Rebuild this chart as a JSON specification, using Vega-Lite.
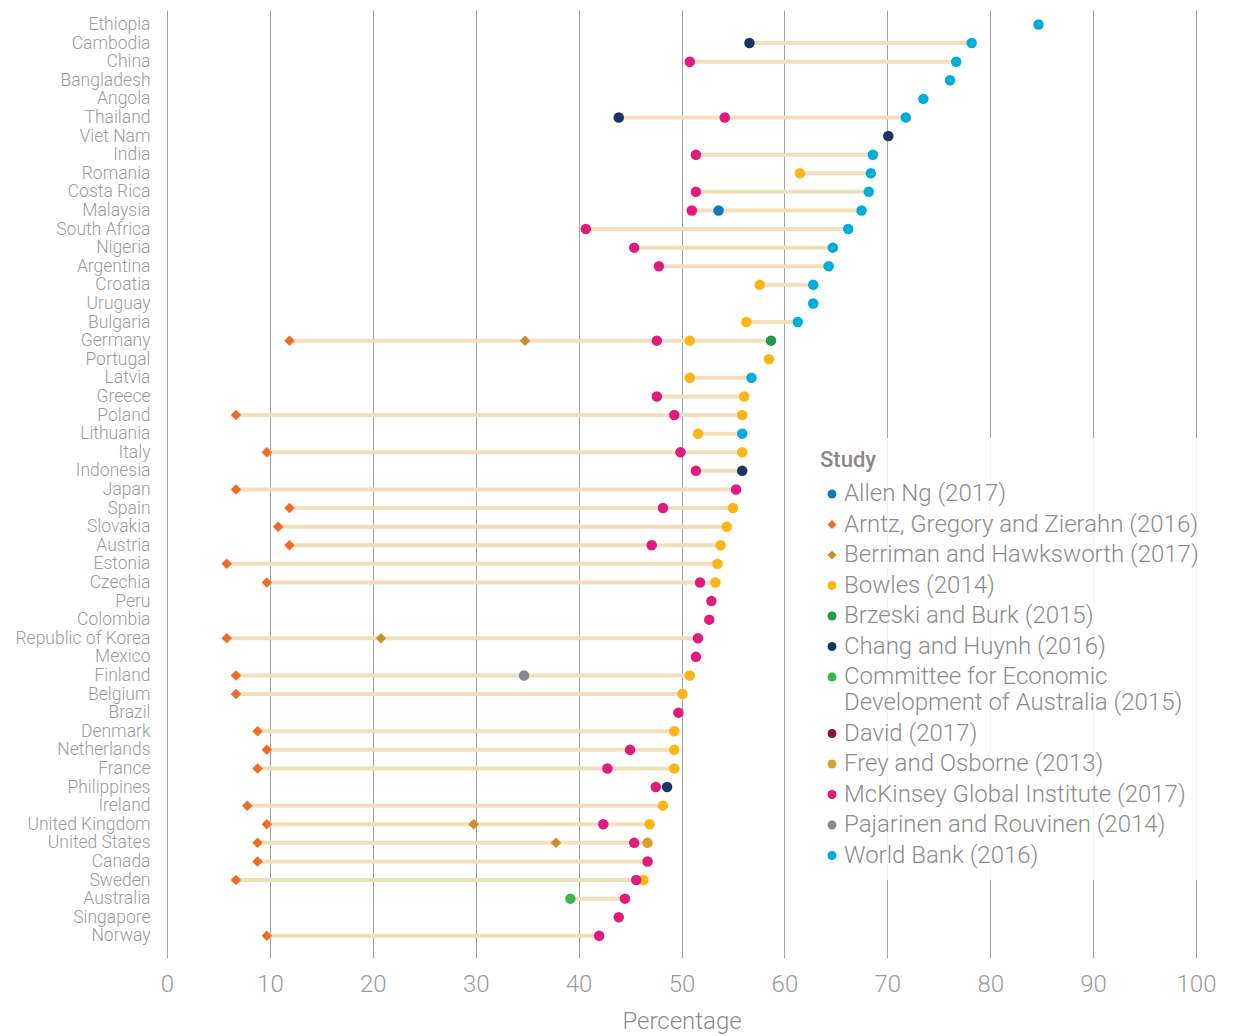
{
  "$schema": "https://vega.github.io/schema/vega-lite/v6.json",
  "width": 1029,
  "height": 948,
  "autosize": {"type": "none"},
  "padding": {"left": 167, "top": 10, "right": 37, "bottom": 78},
  "background": "white",
  "config": {
    "view": {"stroke": null},
    "font": "Roboto",
    "axis": {"labelFont": "Roboto", "titleFont": "Roboto", "labelFontWeight": 300, "titleFontWeight": 300},
    "legend": {
      "fillColor": "rgba(255,255,255,0.88)",
      "padding": 12,
      "titleFont": "Roboto",
      "titleFontSize": 22,
      "titleFontWeight": 500,
      "titleColor": "#8a8a8a",
      "titlePadding": 10,
      "labelFont": "Roboto",
      "labelFontSize": 24,
      "labelFontWeight": 300,
      "labelColor": "#8c8c8c",
      "labelLimit": 600,
      "labelOffset": 0,
      "symbolSize": 80,
      "rowPadding": 6.5,
      "symbolStrokeWidth": 0
    }
  },
  "data": {
    "values": [
      {"country": "Ethiopia", "study": "World Bank (2016)", "value": 84.7},
      {"country": "Cambodia", "study": "Chang and Huynh (2016)", "value": 56.6},
      {"country": "Cambodia", "study": "World Bank (2016)", "value": 78.2},
      {"country": "China", "study": "McKinsey Global Institute (2017)", "value": 50.8},
      {"country": "China", "study": "World Bank (2016)", "value": 76.7},
      {"country": "Bangladesh", "study": "World Bank (2016)", "value": 76.1},
      {"country": "Angola", "study": "World Bank (2016)", "value": 73.5},
      {"country": "Thailand", "study": "Chang and Huynh (2016)", "value": 43.9},
      {"country": "Thailand", "study": "McKinsey Global Institute (2017)", "value": 54.2},
      {"country": "Thailand", "study": "World Bank (2016)", "value": 71.8},
      {"country": "Viet Nam", "study": "Chang and Huynh (2016)", "value": 70.1},
      {"country": "India", "study": "McKinsey Global Institute (2017)", "value": 51.4},
      {"country": "India", "study": "World Bank (2016)", "value": 68.6},
      {"country": "Romania", "study": "Bowles (2014)", "value": 61.5},
      {"country": "Romania", "study": "World Bank (2016)", "value": 68.4},
      {"country": "Costa Rica", "study": "McKinsey Global Institute (2017)", "value": 51.4},
      {"country": "Costa Rica", "study": "World Bank (2016)", "value": 68.2},
      {"country": "Malaysia", "study": "Allen Ng (2017)", "value": 53.6},
      {"country": "Malaysia", "study": "McKinsey Global Institute (2017)", "value": 51.0},
      {"country": "Malaysia", "study": "World Bank (2016)", "value": 67.5},
      {"country": "South Africa", "study": "McKinsey Global Institute (2017)", "value": 40.7},
      {"country": "South Africa", "study": "World Bank (2016)", "value": 66.2},
      {"country": "Nigeria", "study": "McKinsey Global Institute (2017)", "value": 45.4},
      {"country": "Nigeria", "study": "World Bank (2016)", "value": 64.7},
      {"country": "Argentina", "study": "McKinsey Global Institute (2017)", "value": 47.8},
      {"country": "Argentina", "study": "World Bank (2016)", "value": 64.3},
      {"country": "Croatia", "study": "Bowles (2014)", "value": 57.6},
      {"country": "Croatia", "study": "World Bank (2016)", "value": 62.8},
      {"country": "Uruguay", "study": "World Bank (2016)", "value": 62.8},
      {"country": "Bulgaria", "study": "Bowles (2014)", "value": 56.3},
      {"country": "Bulgaria", "study": "World Bank (2016)", "value": 61.3},
      {"country": "Germany", "study": "Arntz, Gregory and Zierahn (2016)", "value": 11.9},
      {"country": "Germany", "study": "Berriman and Hawksworth (2017)", "value": 34.8},
      {"country": "Germany", "study": "Bowles (2014)", "value": 50.8},
      {"country": "Germany", "study": "Brzeski and Burk (2015)", "value": 58.7},
      {"country": "Germany", "study": "McKinsey Global Institute (2017)", "value": 47.6},
      {"country": "Portugal", "study": "Bowles (2014)", "value": 58.5},
      {"country": "Latvia", "study": "Bowles (2014)", "value": 50.8},
      {"country": "Latvia", "study": "World Bank (2016)", "value": 56.8},
      {"country": "Greece", "study": "Bowles (2014)", "value": 56.1},
      {"country": "Greece", "study": "McKinsey Global Institute (2017)", "value": 47.6},
      {"country": "Poland", "study": "Arntz, Gregory and Zierahn (2016)", "value": 6.7},
      {"country": "Poland", "study": "Bowles (2014)", "value": 55.9},
      {"country": "Poland", "study": "McKinsey Global Institute (2017)", "value": 49.3},
      {"country": "Lithuania", "study": "Bowles (2014)", "value": 51.6},
      {"country": "Lithuania", "study": "World Bank (2016)", "value": 55.9},
      {"country": "Italy", "study": "Arntz, Gregory and Zierahn (2016)", "value": 9.7},
      {"country": "Italy", "study": "Bowles (2014)", "value": 55.9},
      {"country": "Italy", "study": "McKinsey Global Institute (2017)", "value": 49.9},
      {"country": "Indonesia", "study": "McKinsey Global Institute (2017)", "value": 51.4},
      {"country": "Indonesia", "study": "Chang and Huynh (2016)", "value": 55.9},
      {"country": "Japan", "study": "Arntz, Gregory and Zierahn (2016)", "value": 6.7},
      {"country": "Japan", "study": "McKinsey Global Institute (2017)", "value": 55.3},
      {"country": "Spain", "study": "Arntz, Gregory and Zierahn (2016)", "value": 11.9},
      {"country": "Spain", "study": "Bowles (2014)", "value": 55.0},
      {"country": "Spain", "study": "McKinsey Global Institute (2017)", "value": 48.2},
      {"country": "Slovakia", "study": "Arntz, Gregory and Zierahn (2016)", "value": 10.8},
      {"country": "Slovakia", "study": "Bowles (2014)", "value": 54.4},
      {"country": "Austria", "study": "Arntz, Gregory and Zierahn (2016)", "value": 11.9},
      {"country": "Austria", "study": "Bowles (2014)", "value": 53.8},
      {"country": "Austria", "study": "McKinsey Global Institute (2017)", "value": 47.1},
      {"country": "Estonia", "study": "Arntz, Gregory and Zierahn (2016)", "value": 5.8},
      {"country": "Estonia", "study": "Bowles (2014)", "value": 53.5},
      {"country": "Czechia", "study": "Arntz, Gregory and Zierahn (2016)", "value": 9.7},
      {"country": "Czechia", "study": "Bowles (2014)", "value": 53.3},
      {"country": "Czechia", "study": "McKinsey Global Institute (2017)", "value": 51.8},
      {"country": "Peru", "study": "McKinsey Global Institute (2017)", "value": 52.9},
      {"country": "Colombia", "study": "McKinsey Global Institute (2017)", "value": 52.7},
      {"country": "Republic of Korea", "study": "Arntz, Gregory and Zierahn (2016)", "value": 5.8},
      {"country": "Republic of Korea", "study": "Berriman and Hawksworth (2017)", "value": 20.8},
      {"country": "Republic of Korea", "study": "McKinsey Global Institute (2017)", "value": 51.6},
      {"country": "Mexico", "study": "McKinsey Global Institute (2017)", "value": 51.4},
      {"country": "Finland", "study": "Arntz, Gregory and Zierahn (2016)", "value": 6.7},
      {"country": "Finland", "study": "Pajarinen and Rouvinen (2014)", "value": 34.7},
      {"country": "Finland", "study": "Bowles (2014)", "value": 50.8},
      {"country": "Belgium", "study": "Arntz, Gregory and Zierahn (2016)", "value": 6.7},
      {"country": "Belgium", "study": "Bowles (2014)", "value": 50.1},
      {"country": "Brazil", "study": "McKinsey Global Institute (2017)", "value": 49.7},
      {"country": "Denmark", "study": "Arntz, Gregory and Zierahn (2016)", "value": 8.8},
      {"country": "Denmark", "study": "Bowles (2014)", "value": 49.3},
      {"country": "Netherlands", "study": "Arntz, Gregory and Zierahn (2016)", "value": 9.7},
      {"country": "Netherlands", "study": "Bowles (2014)", "value": 49.3},
      {"country": "Netherlands", "study": "McKinsey Global Institute (2017)", "value": 45.0},
      {"country": "France", "study": "Arntz, Gregory and Zierahn (2016)", "value": 8.8},
      {"country": "France", "study": "Bowles (2014)", "value": 49.3},
      {"country": "France", "study": "McKinsey Global Institute (2017)", "value": 42.8},
      {"country": "Philippines", "study": "McKinsey Global Institute (2017)", "value": 47.5},
      {"country": "Philippines", "study": "Chang and Huynh (2016)", "value": 48.6},
      {"country": "Ireland", "study": "Arntz, Gregory and Zierahn (2016)", "value": 7.8},
      {"country": "Ireland", "study": "Bowles (2014)", "value": 48.2},
      {"country": "United Kingdom", "study": "Arntz, Gregory and Zierahn (2016)", "value": 9.7},
      {"country": "United Kingdom", "study": "Berriman and Hawksworth (2017)", "value": 29.8},
      {"country": "United Kingdom", "study": "Bowles (2014)", "value": 46.9},
      {"country": "United Kingdom", "study": "McKinsey Global Institute (2017)", "value": 42.4},
      {"country": "United States", "study": "Arntz, Gregory and Zierahn (2016)", "value": 8.8},
      {"country": "United States", "study": "Berriman and Hawksworth (2017)", "value": 37.8},
      {"country": "United States", "study": "Frey and Osborne (2013)", "value": 46.7},
      {"country": "United States", "study": "McKinsey Global Institute (2017)", "value": 45.4},
      {"country": "Canada", "study": "Arntz, Gregory and Zierahn (2016)", "value": 8.8},
      {"country": "Canada", "study": "McKinsey Global Institute (2017)", "value": 46.7},
      {"country": "Sweden", "study": "Arntz, Gregory and Zierahn (2016)", "value": 6.7},
      {"country": "Sweden", "study": "Bowles (2014)", "value": 46.3},
      {"country": "Sweden", "study": "McKinsey Global Institute (2017)", "value": 45.6},
      {"country": "Australia", "study": "Committee for Economic Development of Australia (2015)", "value": 39.2},
      {"country": "Australia", "study": "McKinsey Global Institute (2017)", "value": 44.5},
      {"country": "Singapore", "study": "McKinsey Global Institute (2017)", "value": 43.9},
      {"country": "Norway", "study": "Arntz, Gregory and Zierahn (2016)", "value": 9.7},
      {"country": "Norway", "study": "McKinsey Global Institute (2017)", "value": 42.0}
    ]
  },
  "encoding": {
    "y": {
      "field": "country",
      "type": "nominal",
      "scale": {
        "type": "point",
        "domain": ["Ethiopia", "Cambodia", "China", "Bangladesh", "Angola", "Thailand", "Viet Nam", "India", "Romania", "Costa Rica", "Malaysia", "South Africa", "Nigeria", "Argentina", "Croatia", "Uruguay", "Bulgaria", "Germany", "Portugal", "Latvia", "Greece", "Poland", "Lithuania", "Italy", "Indonesia", "Japan", "Spain", "Slovakia", "Austria", "Estonia", "Czechia", "Peru", "Colombia", "Republic of Korea", "Mexico", "Finland", "Belgium", "Brazil", "Denmark", "Netherlands", "France", "Philippines", "Ireland", "United Kingdom", "United States", "Canada", "Sweden", "Australia", "Singapore", "Norway"],
        "padding": 0.985,
        "align": 0.395
      },
      "axis": {
        "title": null,
        "domain": false,
        "ticks": false,
        "tickSize": 0,
        "grid": false,
        "labelFontSize": 17.5,
        "labelColor": "#9b9b9b",
        "labelPadding": 17
      }
    }
  },
  "layer": [
    {
      "mark": {"type": "rule", "color": "#f1dfbb", "strokeWidth": 4},
      "encoding": {
        "x": {"aggregate": "min", "field": "value", "type": "quantitative"},
        "x2": {"aggregate": "max", "field": "value"}
      }
    },
    {
      "mark": {"type": "point", "filled": true, "opacity": 1, "size": 110},
      "encoding": {
        "x": {
          "field": "value",
          "type": "quantitative",
          "title": "Percentage",
          "scale": {"domain": [0, 100], "nice": false},
          "axis": {
            "values": [0, 10, 20, 30, 40, 50, 60, 70, 80, 90, 100],
            "domain": false,
            "ticks": false,
            "tickSize": 0,
            "grid": true,
            "gridColor": "#a3a3a3",
            "gridWidth": 1,
            "labelFlush": false,
            "labelFontSize": 24,
            "labelColor": "#9b9b9b",
            "labelPadding": 14,
            "titleFontSize": 24,
            "titleColor": "#8c8c8c",
            "titlePadding": 13
          }
        },
        "color": {
          "field": "study",
          "type": "nominal",
          "scale": {
            "domain": ["Allen Ng (2017)", "Arntz, Gregory and Zierahn (2016)", "Berriman and Hawksworth (2017)", "Bowles (2014)", "Brzeski and Burk (2015)", "Chang and Huynh (2016)", "Committee for Economic Development of Australia (2015)", "David (2017)", "Frey and Osborne (2013)", "McKinsey Global Institute (2017)", "Pajarinen and Rouvinen (2014)", "World Bank (2016)"],
            "range": ["#0b7bbf", "#f26b22", "#d08a2b", "#fdb515", "#1f9a4b", "#1a3563", "#3cb54a", "#8b1538", "#d7a12c", "#e2197e", "#8a8a8a", "#00acd8"]
          },
          "legend": {
            "title": "Study",
            "orient": "none",
            "legendX": 641,
            "legendY": 428,
            "labelExpr": "datum.label == 'Committee for Economic Development of Australia (2015)' ? ['Committee for Economic', 'Development of Australia (2015)'] : datum.label"
          }
        },
        "shape": {
          "field": "study",
          "type": "nominal",
          "scale": {
            "domain": ["Allen Ng (2017)", "Arntz, Gregory and Zierahn (2016)", "Berriman and Hawksworth (2017)", "Bowles (2014)", "Brzeski and Burk (2015)", "Chang and Huynh (2016)", "Committee for Economic Development of Australia (2015)", "David (2017)", "Frey and Osborne (2013)", "McKinsey Global Institute (2017)", "Pajarinen and Rouvinen (2014)", "World Bank (2016)"],
            "range": ["circle", "diamond", "diamond", "circle", "circle", "circle", "circle", "circle", "circle", "circle", "circle", "circle"]
          },
          "legend": {
            "title": "Study",
            "orient": "none",
            "legendX": 641,
            "legendY": 428,
            "labelExpr": "datum.label == 'Committee for Economic Development of Australia (2015)' ? ['Committee for Economic', 'Development of Australia (2015)'] : datum.label"
          }
        }
      }
    }
  ]
}
